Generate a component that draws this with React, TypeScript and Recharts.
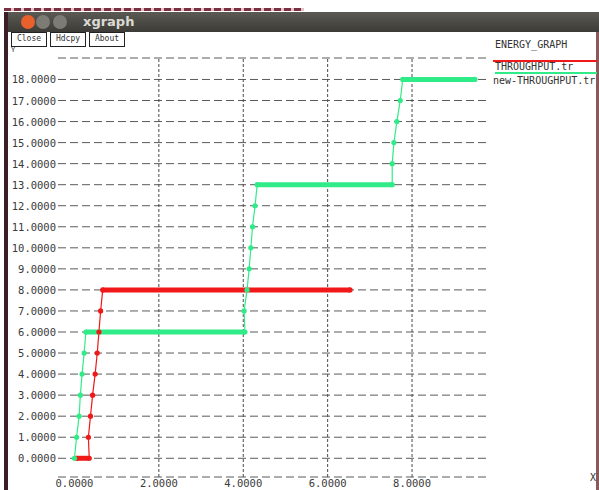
import React from "react";
import { LineChart, Line, XAxis, YAxis, CartesianGrid, ReferenceLine } from "recharts";

const xTicks = [0, 2, 4, 6, 8];
const yTicks = [0, 1, 2, 3, 4, 5, 6, 7, 8, 9, 10, 11, 12, 13, 14, 15, 16, 17, 18];

const graphTitle = "ENERGY_GRAPH";
const seriesNames = ["THROUGHPUT.tr", "new-THROUGHPUT.tr"];
const buttonLabels = ["Close", "Hdcpy", "About"];

// THROUGHPUT.tr (red)
const redX = [0.05, 0.35, 0.33, 0.38, 0.43, 0.49, 0.54, 0.58, 0.62, 0.67, 6.53];
const redY = [0, 0, 1, 2, 3, 4, 5, 6, 7, 8, 8];

// new-THROUGHPUT.tr (green)
const greenX = [
  0, 0.05, 0.11, 0.14, 0.18, 0.23, 0.27, 4.04, 4.02, 4.09, 4.14, 4.18, 4.22, 4.28, 4.33, 7.53, 7.53,
  7.57, 7.64, 7.72, 7.78, 9.49,
];
const greenY = [0, 1, 2, 3, 4, 5, 6, 6, 7, 8, 9, 10, 11, 12, 13, 13, 14, 15, 16, 17, 18, 18];

const RED = "#f01818";
const GREEN = "#30ec88";
const FONT = "'DejaVu Sans Mono', monospace";

const toPoints = (xs: number[], ys: number[]) => xs.map((x, i) => ({ x, y: ys[i] }));

// consecutive points on the same level are drawn thick, like xgraph's dense plateaus
const plateaus = (xs: number[], ys: number[]) => {
  const segs: { x: number; y: number }[][] = [];
  for (let i = 0; i < xs.length - 1; i++) {
    if (ys[i] === ys[i + 1]) segs.push([{ x: xs[i], y: ys[i] }, { x: xs[i + 1], y: ys[i + 1] }]);
  }
  return segs;
};

const series = [
  { name: seriesNames[0], color: RED, data: toPoints(redX, redY), flats: plateaus(redX, redY) },
  { name: seriesNames[1], color: GREEN, data: toPoints(greenX, greenY), flats: plateaus(greenX, greenY) },
];

const YTick = ({ x, y, payload }: any) => (
  <text x={x} y={y} textAnchor="end" dominantBaseline="central" fontSize={10.5} fontFamily={FONT} fill="#3a3a3a">
    {Number(payload.value).toFixed(4)}
  </text>
);

const XTick = ({ x, y, payload }: any) => (
  <text x={x} y={y + 6} textAnchor="middle" dominantBaseline="central" fontSize={10.5} fontFamily={FONT} fill="#3a3a3a">
    {Number(payload.value).toFixed(4)}
  </text>
);

export default function App() {
  return (
    <div
      style={{
        position: "absolute",
        left: 0,
        top: 0,
        width: 599,
        height: 490,
        background: "#ffffff",
        overflow: "hidden",
        fontFamily: FONT,
      }}
    >
      {/* desktop strip and window frame */}
      <div
        style={{
          position: "absolute",
          left: 4,
          top: 8,
          width: 300,
          height: 3,
          background: "repeating-linear-gradient(90deg, #7a3040 0 7px, #e2c4ca 7px 10px)",
        }}
      />
      <div
        style={{
          position: "absolute",
          left: 4,
          top: 12,
          width: 595,
          height: 20,
          background: "linear-gradient(#5a5953, #3c3b37)",
          borderTopLeftRadius: 5,
        }}
      />
      <div style={{ position: "absolute", left: 4, top: 12, width: 4, height: 478, background: "#3a1e28" }} />
      <div style={{ position: "absolute", left: 596, top: 32, width: 3, height: 458, background: "#8a5a5a" }} />
      <div style={{ position: "absolute", left: 21, top: 15, width: 14, height: 14, borderRadius: 7, background: "#e8602c" }} />
      <div style={{ position: "absolute", left: 36, top: 15, width: 14, height: 14, borderRadius: 7, background: "#7c7b76" }} />
      <div style={{ position: "absolute", left: 53, top: 15, width: 14, height: 14, borderRadius: 7, background: "#7c7b76" }} />
      <div
        style={{
          position: "absolute",
          left: 83,
          top: 13,
          height: 18,
          lineHeight: "18px",
          fontFamily: "'DejaVu Sans', sans-serif",
          fontWeight: "bold",
          fontSize: 13,
          color: "#dcdad5",
        }}
      >
        xgraph
      </div>

      {/* xgraph buttons */}
      {buttonLabels.map((label, i) => (
        <div
          key={label}
          style={{
            position: "absolute",
            left: [11, 50, 89][i],
            top: 32,
            width: 36,
            height: 15,
            border: "1.5px solid #222",
            boxSizing: "border-box",
            fontSize: 8,
            lineHeight: "12px",
            textAlign: "center",
            color: "#333",
            background: "#fff",
          }}
        >
          {label}
        </div>
      ))}
      <div style={{ position: "absolute", left: 11, top: 46, fontSize: 7, color: "#333" }}>Y</div>
      <div style={{ position: "absolute", left: 590, top: 472, fontSize: 10, color: "#333" }}>X</div>

      {/* legend */}
      <div style={{ position: "absolute", left: 495, top: 39, fontSize: 10, color: "#333", whiteSpace: "nowrap" }}>
        {graphTitle}
      </div>
      <div style={{ position: "absolute", left: 493, top: 60, width: 104, height: 1.5, background: series[0].color }} />
      <div style={{ position: "absolute", left: 495, top: 61, fontSize: 10, color: "#333", whiteSpace: "nowrap" }}>
        {series[0].name}
      </div>
      <div style={{ position: "absolute", left: 495, top: 72, width: 102, height: 1.5, background: series[1].color }} />
      <div style={{ position: "absolute", left: 493, top: 75, fontSize: 10, color: "#333", whiteSpace: "nowrap" }}>
        {series[1].name}
      </div>

      <div style={{ position: "absolute", left: 0, top: 0 }}>
        <LineChart width={599} height={490} margin={{ top: 58, right: 111, bottom: 0, left: 0 }}>
          <CartesianGrid vertical={false} stroke="#5a5a5a" strokeDasharray="8 4" />
          <XAxis
            type="number"
            dataKey="x"
            domain={[-0.39, 9.8]}
            allowDataOverflow
            ticks={xTicks}
            interval={0}
            height={13}
            axisLine={false}
            tickLine={false}
            tickSize={0}
            tickMargin={0}
            tick={<XTick />}
          />
          <YAxis
            type="number"
            dataKey="y"
            domain={[-0.89, 19.02]}
            allowDataOverflow
            ticks={yTicks}
            interval={0}
            width={58}
            axisLine={false}
            tickLine={false}
            tickSize={0}
            tickMargin={2}
            tick={<YTick />}
          />
          {xTicks.slice(1).map((t) => (
            <ReferenceLine key={`gx${t}`} x={t} stroke="#4a4a4a" strokeDasharray="3 2" />
          ))}
          {series.map((s) => [
            <Line
              key={`${s.name}-thin`}
              data={s.data}
              dataKey="y"
              type="linear"
              stroke={s.color}
              strokeWidth={1.2}
              dot={{ r: 2.6, fill: s.color, stroke: s.color, strokeWidth: 0 }}
              activeDot={false}
              isAnimationActive={false}
            />,
            ...s.flats.map((seg, j) => (
              <Line
                key={`${s.name}-flat${j}`}
                data={seg}
                dataKey="y"
                type="linear"
                stroke={s.color}
                strokeWidth={5}
                dot={false}
                activeDot={false}
                isAnimationActive={false}
              />
            )),
          ])}
        </LineChart>
      </div>
    </div>
  );
}
